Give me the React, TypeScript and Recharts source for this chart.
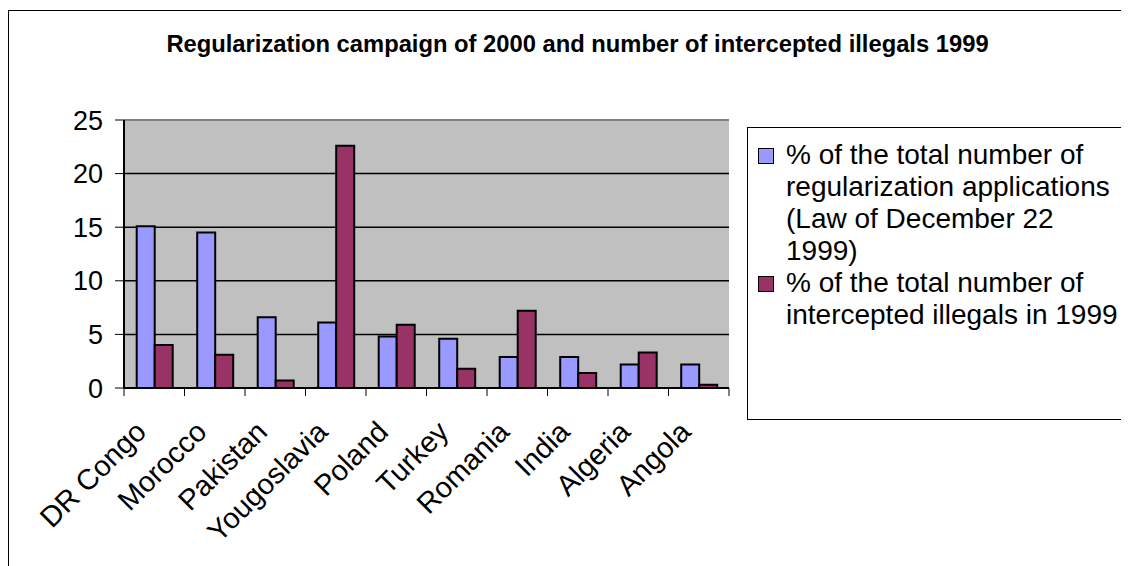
import { BarChart, Bar, XAxis, YAxis, CartesianGrid, Legend, ReferenceLine } from "recharts";

const countries = ["DR Congo", "Morocco", "Pakistan", "Yougoslavia", "Poland", "Turkey", "Romania", "India", "Algeria", "Angola"];
const applications = [15.1, 14.5, 6.6, 6.1, 4.8, 4.6, 2.9, 2.9, 2.2, 2.2];
const intercepted = [4.0, 3.1, 0.7, 22.6, 5.9, 1.8, 7.2, 1.4, 3.3, 0.3];
const yTicks = [0, 5, 10, 15, 20, 25];
const seriesKeys = ["applications", "intercepted"];
const applicationsName = "% of the total number of regularization applications (Law of December 22 1999)";
const interceptedName = "% of the total number of intercepted illegals in 1999";

const data = countries.map((country, i) => ({
  country,
  applications: applications[i],
  intercepted: intercepted[i],
}));

const font = "'Liberation Sans', Arial, sans-serif";
const blue = "#9999FF";
const plum = "#993366";

// Excel-style category tick: marks sit on the band edges, label rotated 45°
function CountryTick(props: any) {
  const { x, y, payload, index } = props;
  const half = payload.offset || 30.25;
  const left = x - half;
  const right = x + half;
  const tx = x - 21;
  const ty = y + 31;
  return (
    <g>
      <line x1={left} y1={y} x2={left} y2={y + 8} stroke="#000" />
      {index === countries.length - 1 && <line x1={right} y1={y} x2={right} y2={y + 8} stroke="#000" />}
      <text
        x={tx}
        y={ty}
        dy="0.71em"
        textAnchor="end"
        transform={`rotate(-45 ${tx} ${ty})`}
        fontSize={29}
        fontFamily={font}
        fill="#000"
      >
        {payload.value}
      </text>
    </g>
  );
}

function LegendBox({ payload }: any) {
  const items = [...(payload || [])].sort(
    (a: any, b: any) => seriesKeys.indexOf(a.dataKey) - seriesKeys.indexOf(b.dataKey)
  );
  return (
    <div
      style={{
        border: "1px solid #000",
        height: 293,
        boxSizing: "border-box",
        padding: "11px 0 0 10px",
        fontFamily: font,
        fontSize: 28,
        lineHeight: "32px",
        color: "#000",
        textAlign: "left",
      }}
    >
      {items.map((item: any) => (
        <div key={item.value} style={{ display: "flex", alignItems: "flex-start" }}>
          <span
            style={{
              width: 16,
              height: 16,
              marginTop: 9,
              marginRight: 12,
              flex: "none",
              background: item.color,
              border: "1px solid #000",
              boxSizing: "border-box",
            }}
          />
          <span style={{ width: 338 }}>{item.value}</span>
        </div>
      ))}
    </div>
  );
}

export default function App() {
  return (
    <div style={{ position: "relative", width: 1121, height: 558, overflow: "hidden", background: "#fff" }}>
      <div
        style={{
          position: "absolute",
          left: 0,
          top: 2,
          width: 1300,
          height: 700,
          borderLeft: "1px solid #000",
          borderTop: "1px solid #000",
        }}
      />
      <div
        style={{
          position: "absolute",
          top: 22,
          left: 9,
          width: 1121,
          textAlign: "center",
          fontFamily: font,
          fontWeight: "bold",
          fontSize: 23.75,
          color: "#000",
        }}
      >
        Regularization campaign of 2000 and number of intercepted illegals 1999
      </div>
      <BarChart
        width={1121}
        height={558}
        data={data}
        margin={{ top: 112, right: 400, bottom: 58, left: 46 }}
        barCategoryGap="21%"
        barGap={0}
        style={{ position: "absolute", left: 0, top: 0 }}
      >
        <CartesianGrid vertical={false} fill="#C0C0C0" stroke="#000" strokeWidth={1.5} />
        <ReferenceLine y={25} stroke="#808080" strokeWidth={2} />
        <XAxis
          dataKey="country"
          interval={0}
          tickLine={false}
          tickSize={0}
          tickMargin={0}
          height={120}
          axisLine={{ stroke: "#000", strokeWidth: 2 }}
          tick={<CountryTick />}
        />
        <YAxis
          domain={[0, 25]}
          ticks={yTicks}
          width={70}
          tickSize={9}
          tickMargin={12}
          axisLine={{ stroke: "#000", strokeWidth: 2 }}
          tickLine={{ stroke: "#000" }}
          tick={{ fontSize: 27, fontFamily: font, fill: "#000" }}
        />
        <YAxis
          yAxisId="edge"
          orientation="right"
          width={0}
          domain={[0, 25]}
          tick={false}
          tickLine={false}
          axisLine={{ stroke: "#808080", strokeWidth: 2 }}
        />
        <Legend
          layout="horizontal"
          align="center"
          verticalAlign="middle"
          content={<LegendBox />}
          wrapperStyle={{ position: "absolute", left: 739, top: 119, width: 420, height: 293 }}
        />
        <Bar
          dataKey="applications"
          name={applicationsName}
          fill={blue}
          stroke="#000"
          strokeWidth={2}
          isAnimationActive={false}
        />
        <Bar
          dataKey="intercepted"
          name={interceptedName}
          fill={plum}
          stroke="#000"
          strokeWidth={2}
          isAnimationActive={false}
        />
      </BarChart>
    </div>
  );
}
